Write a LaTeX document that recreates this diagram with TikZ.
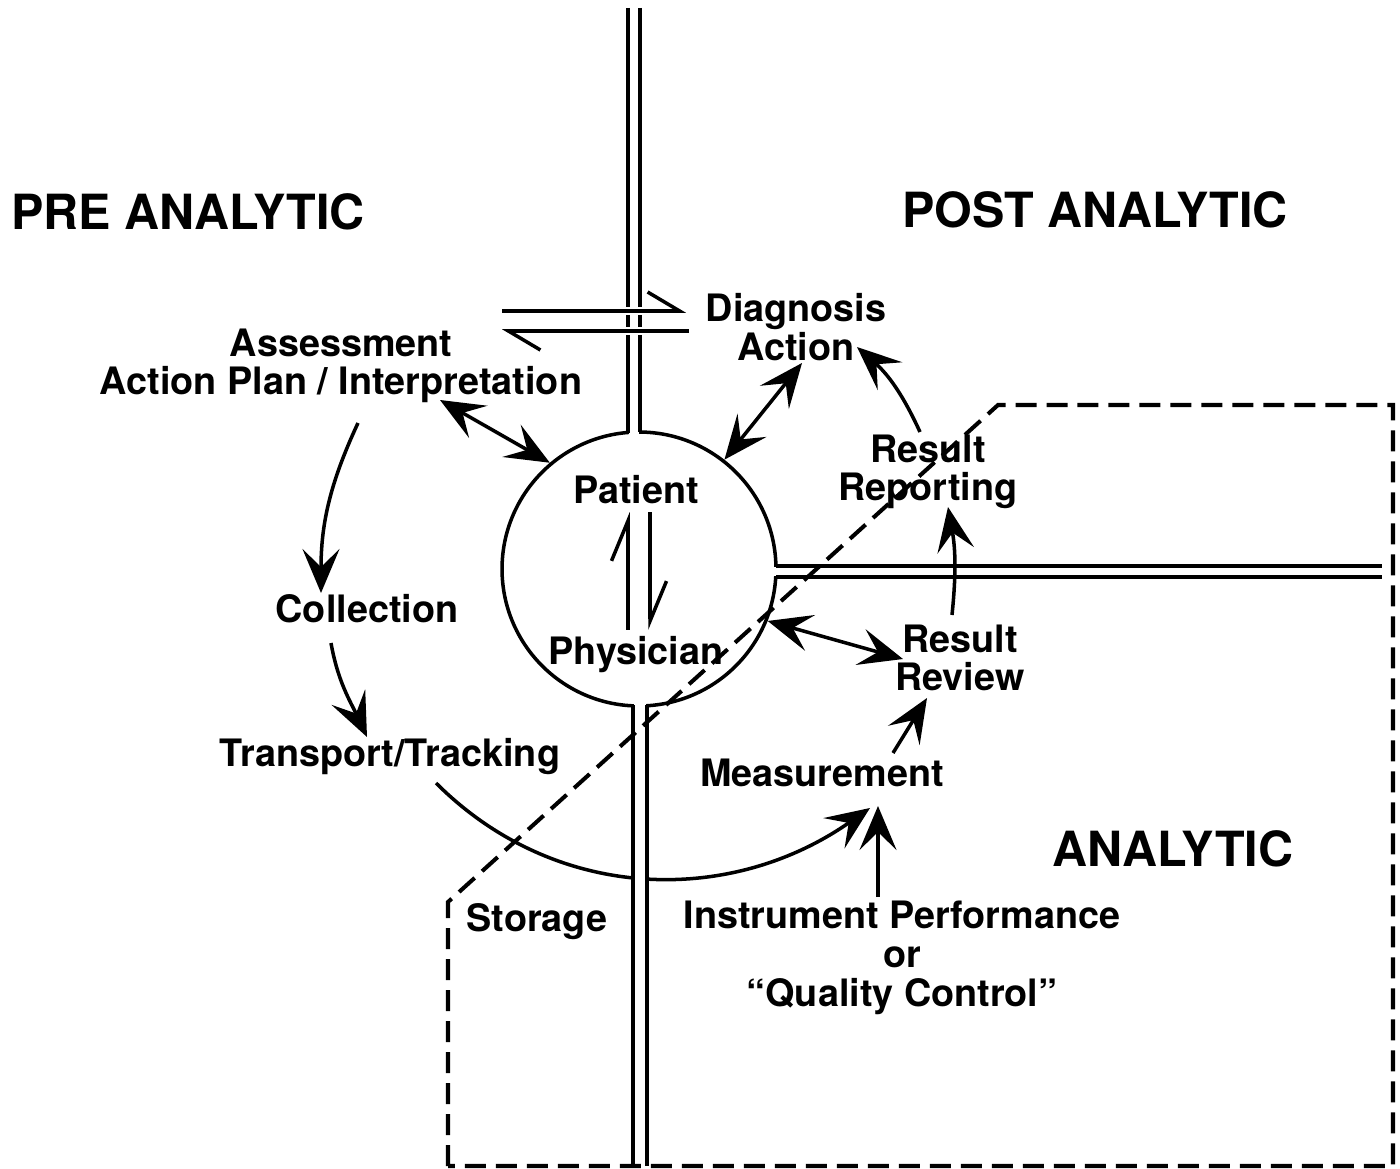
\documentclass[tikz,border=0pt]{standalone}
\usepackage{fontspec}
\setmainfont{TeX Gyre Heros}
\usetikzlibrary{
  arrows.meta,
  positioning,  % Function "of" (e.g. [below=of x])
}
\def\mylw{2pt}
\tikzset{
  font=\bfseries,
  >={Stealth[length=0.88cm,width=0.74cm,inset=0.36cm]},
  big label/.style={
    font=\bfseries\fontsize{27.6}{30}\selectfont,
    inner sep=0pt
  },
  my label/.style={
    font=\bfseries\fontsize{21.5}{22}\selectfont,
    align=center,
    inner sep=0pt
  },
  hub/.style={
    draw,
    circle,
    minimum size=5.48cm,
    inner sep=0pt
  },
  harpoon/.style={-{Straight Barb[harpoon,length=0.64cm,width=0.76cm]}},
  small harpoon/.style={-{Straight Barb[harpoon,length=0.8cm,width=0.66cm]}},
  halo/.style={preaction={draw=white,line width=5pt,-}},
  lane/.style={
    dash pattern=on 0.42cm off 0.2cm,
    line width=2.3pt
  }
}

\begin{document}
\begin{tikzpicture}[x=0.02cm,y=0.02cm,line width=\mylw]
\useasboundingbox (0,0) rectangle (1400,-1169);

% phases
\node[big label] (pre)  at (188,-212)  {PRE ANALYTIC};
\node[big label] (post) at (1095,-210) {POST ANALYTIC};
\node[big label] (ana)  at (1173,-849) {ANALYTIC};

% centre
\node[hub] (hub) at (639,-569) {};
\node[my label] (patient) at (636,-490) {Patient};
\node[my label] (phys) [below=2.58cm of patient] {Physician};

% steps
\node[my label] (assess) at (341,-366) {Assessment\\Action Plan / Interpretation};
\node[my label] (coll)   at (367,-609) {Collection};
\node[my label] (trans)  at (390,-757) {Transport/Tracking};
\node[my label] (meas)   at (822,-773) {Measurement};
\node[my label] (review) at (960,-658) {Result\\Review};
\node[my label] (report) at (928,-472) {Result\\Reporting};
\node[my label] (diag)   at (796,-327) {Diagnosis\\Action};
\node[my label] (store)  at (537,-922) {Storage};
\node[my label] (instr)  at (902,-958) {Instrument Performance\\or\\``Quality Control''};

% runs under the channel
\draw[->] ([shift={(46,-26)}]trans.center) to[out=-45,in=-145] ([shift={(48,-35)}]meas.center);

% channels
\fill[white] (629,-8) rectangle (639,-440);
\draw (628,-8) -- (628,-433) (640,-8) -- (640,-432);
\fill[white] (768,-567) rectangle (1382,-576);
\draw (776,-566) -- (1382,-566) (776,-577) -- (1382,-577);
\fill[white] (634,-698) rectangle (646,-1166);
\draw (633,-705) -- (633,-1166) (647,-705) -- (647,-1166);

\draw[<->] ([shift={(99,-34)}]assess.center) -- (hub.130);
\draw[<->] (hub.52) -- ([shift={(6,-36)}]diag.center);
\draw[->] ([shift={(-8,40)}]report.center) to[bend right=12] ([shift={(61,-20)}]diag.center);
\draw[->] ([shift={(-8,43)}]review.center) to[bend right=8] ([shift={(20,-35)}]report.center);
\draw[<->] (hub.-22) -- ([shift={(-57,-1)}]review.center);
\draw[->] ([shift={(71,20)}]meas.center) -- ([shift={(-33,-40)}]review.center);
\draw[->] ([shift={(-24,61)}]instr.center) -- ([shift={(56,-33)}]meas.center);
\draw[->] ([shift={(17,-57)}]assess.center) to[out=-115,in=90] ([shift={(-46,16)}]coll.center);
\draw[->] ([shift={(-36,-34)}]coll.center) to[out=-80,in=115] ([shift={(-23,20)}]trans.center);

% half arrows
\draw[harpoon,halo] ([shift={(-294,16)}]diag.center) -- ([shift={(-110,16)}]diag.center);
\draw[harpoon,halo] ([shift={(-107,-4)}]diag.center) -- ([shift={(-294,-4)}]diag.center);
\draw[small harpoon] ([shift={(-8,25)}]phys.center) -- ([shift={(-8,-22)}]patient.center);
\draw[small harpoon] ([shift={(14,-22)}]patient.center) -- ([shift={(14,25)}]phys.center);

% analytic area
\draw[lane] (448,-1166) -- (448,-902) -- (998,-405) -- (1393,-405) -- (1393,-1166) -- cycle;
\end{tikzpicture}
\end{document}
